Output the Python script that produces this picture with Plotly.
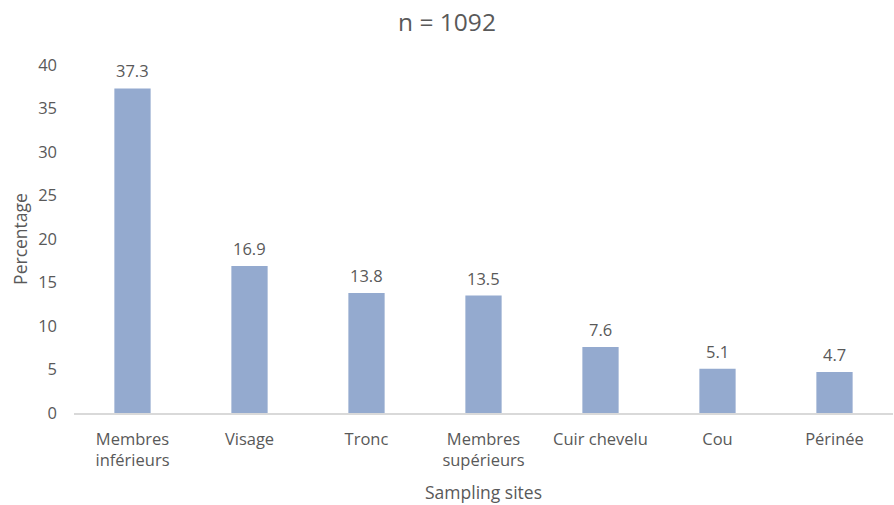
import plotly.graph_objects as go

sites = ["Membres<br>inférieurs", "Visage", "Tronc", "Membres<br>supérieurs",
         "Cuir chevelu", "Cou", "Périnée"]
percentages = [37.3, 16.9, 13.8, 13.5, 7.6, 5.1, 4.7]
y_ticks = [0, 5, 10, 15, 20, 25, 30, 35, 40]

TEXT = "#595959"
FONT = "Open Sans"
SIZE = 16.5

fig = go.Figure(
    go.Bar(
        x=sites,
        y=percentages,
        width=0.31,
        marker=dict(color="#94AACF", line=dict(width=0)),
        hoverinfo="x+y",
    )
)

# value labels floating a little above each bar
for site, v in zip(sites, percentages):
    fig.add_annotation(
        x=site, y=v, text=f"{v:.1f}", showarrow=False,
        xanchor="center", yanchor="bottom", yshift=4,
        font=dict(family=FONT, size=SIZE, color=TEXT),
    )

fig.update_layout(
    width=894,
    height=505,
    margin=dict(l=74, r=1, t=65, b=92),
    paper_bgcolor="white",
    plot_bgcolor="white",
    font=dict(family=FONT, size=SIZE, color=TEXT),
    title=dict(text="n = 1092", x=0.5, xanchor="center", y=0.955, yanchor="middle",
               font=dict(family=FONT, size=24.5, color=TEXT)),
    showlegend=False,
)

fig.update_xaxes(
    showline=True, linecolor="#D9D9D9", linewidth=1.5,
    ticks="", showgrid=False, ticklabelstandoff=10,
    tickfont=dict(family=FONT, size=SIZE, color=TEXT),
    title=dict(text="Sampling sites", font=dict(family=FONT, size=17.5, color=TEXT), standoff=17),
)
fig.update_yaxes(
    range=[0, 40], tickvals=y_ticks, showgrid=False, zeroline=False,
    showline=False, ticks="", ticklabelstandoff=16,
    tickfont=dict(family=FONT, size=SIZE, color=TEXT),
    title=dict(text="Percentage", font=dict(family=FONT, size=17.5, color=TEXT), standoff=6),
)

fig.write_html("out.html")
